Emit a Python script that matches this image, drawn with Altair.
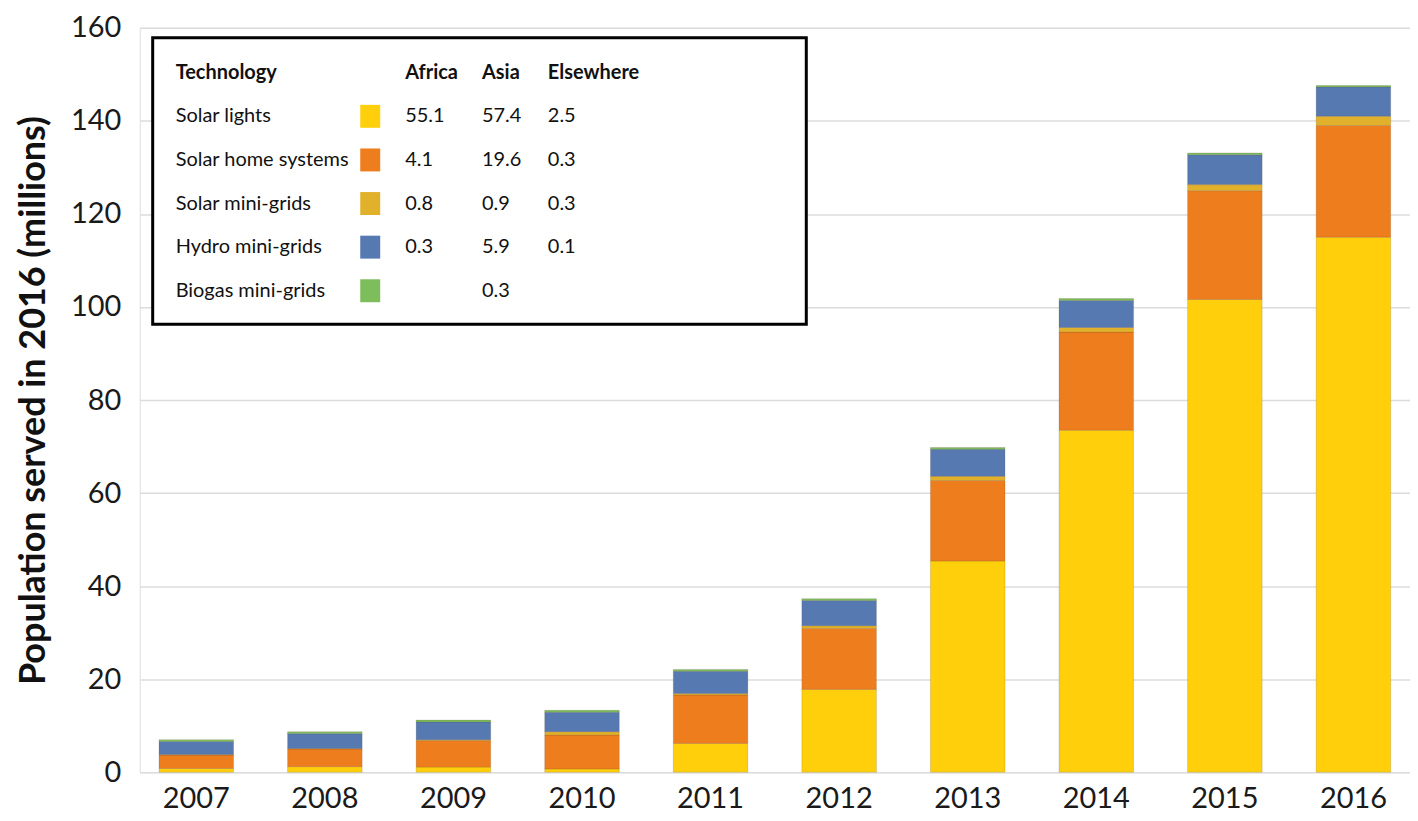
import altair as alt
import pandas as pd

years = ["2007", "2008", "2009", "2010", "2011", "2012", "2013", "2014", "2015", "2016"]
technologies = ["Solar lights", "Solar home systems", "Solar mini-grids", "Hydro mini-grids", "Biogas mini-grids"]
colors = ["#FFCF0B", "#EE7D1E", "#E1B12C", "#5679B2", "#7DBD5B"]

solar_lights = [0.8, 1.2, 1.1, 0.7, 6.2, 17.8, 45.4, 73.5, 101.6, 115.0]
solar_home = [2.9, 3.8, 5.7, 7.3, 10.4, 13.1, 17.3, 21.1, 23.4, 24.0]
solar_mini = [0.1, 0.1, 0.2, 0.7, 0.3, 0.6, 0.9, 1.0, 1.3, 2.0]
hydro_mini = [2.8, 3.2, 3.8, 4.2, 4.8, 5.4, 5.8, 5.8, 6.4, 6.3]
biogas_mini = [0.4, 0.4, 0.4, 0.4, 0.4, 0.4, 0.4, 0.4, 0.4, 0.3]

africa = ["55.1", "4.1", "0.8", "0.3", ""]
asia = ["57.4", "19.6", "0.9", "5.9", "0.3"]
elsewhere = ["2.5", "0.3", "0.3", "0.1", ""]

FONT = "Lato"

series = [solar_lights, solar_home, solar_mini, hydro_mini, biogas_mini]
rows = []
for ti, (tech, vals) in enumerate(zip(technologies, series)):
    for y, v in zip(years, vals):
        rows.append({"year": y, "tech": tech, "idx": ti, "value": v})
df = pd.DataFrame(rows)

color_scale = alt.Scale(domain=technologies, range=colors)

bars = alt.Chart(df).mark_bar(stroke="#5a4a3a", strokeWidth=0.6, strokeOpacity=0.3).encode(
    x=alt.X("year:O", title=None,
            scale=alt.Scale(paddingInner=0.42, paddingOuter=0.15),
            axis=alt.Axis(labelAngle=0, labelFontSize=29, labelColor="#1a1a1a",
                          labelFont=FONT, labelPadding=12, ticks=False, domain=False, grid=False)),
    y=alt.Y("value:Q", stack="zero", title="Population served in 2016 (millions)",
            scale=alt.Scale(domain=[0, 160], nice=False),
            axis=alt.Axis(values=[0, 20, 40, 60, 80, 100, 120, 140, 160], labelFontSize=29,
                          labelColor="#1a1a1a", labelFont=FONT, labelPadding=19,
                          ticks=False, domain=False, gridColor="#dcdcdc", gridWidth=1.5,
                          titleFont=FONT, titleFontSize=36, titleFontWeight="bold",
                          titleColor="#111111", titlePadding=18)),
    color=alt.Color("tech:N", scale=color_scale, legend=None),
    order=alt.Order("idx:Q", sort="ascending"),
)

# legend table
leg = pd.DataFrame({"tech": technologies, "row": list(range(5)),
                    "africa": africa, "asia": asia, "elsewhere": elsewhere})
header = pd.DataFrame({"label": ["Technology", "Africa", "Asia", "Elsewhere"],
                       "col": [0, 1, 2, 3]})

box = alt.Chart(pd.DataFrame({"a": [0]})).mark_rect(
    fill="white", stroke="black", strokeWidth=3
).encode(x=alt.value(13), x2=alt.value(668), y=alt.value(10), y2=alt.value(297))

ROW0, STEP = 88.7, 43.7
col_x = [36, 266, 343, 409]

head_text = alt.Chart(header).mark_text(
    align="left", baseline="middle", font=FONT, fontSize=20, fontWeight="bold", color="#111111"
).transform_calculate(
    px="[36, 266, 343, 409][datum.col]"
).encode(x=alt.X("px:Q", scale=None, axis=None), y=alt.value(45), text="label:N")

base = alt.Chart(leg).transform_calculate(py=f"{ROW0} + datum.row * {STEP}")

def col_text(field, xpos):
    return base.mark_text(align="left", baseline="middle", font=FONT, fontSize=20,
                          color="#111111").encode(
        x=alt.value(xpos), y=alt.Y("py:Q", scale=None, axis=None), text=f"{field}:N")

name_text = col_text("tech", col_x[0])
squares = base.mark_point(filled=True, size=529, opacity=1, shape="M-0.87,-1H0.87V1H-0.87Z").encode(
    x=alt.value(231), y=alt.Y("py:Q", scale=None, axis=None),
    color=alt.Color("tech:N", scale=color_scale, legend=None))
af_text = col_text("africa", col_x[1])
as_text = col_text("asia", col_x[2])
el_text = col_text("elsewhere", col_x[3])

chart = alt.layer(bars, box, head_text, name_text, squares, af_text, as_text, el_text).resolve_scale(
    x="independent", y="independent", color="shared"
).properties(
    width=1273, height=746,
    padding={"left": 7, "top": 5, "right": 0, "bottom": 0},
).configure_view(stroke=None).configure(background="white")

chart.save("out.html", embed_options={"renderer": "svg", "actions": False})
